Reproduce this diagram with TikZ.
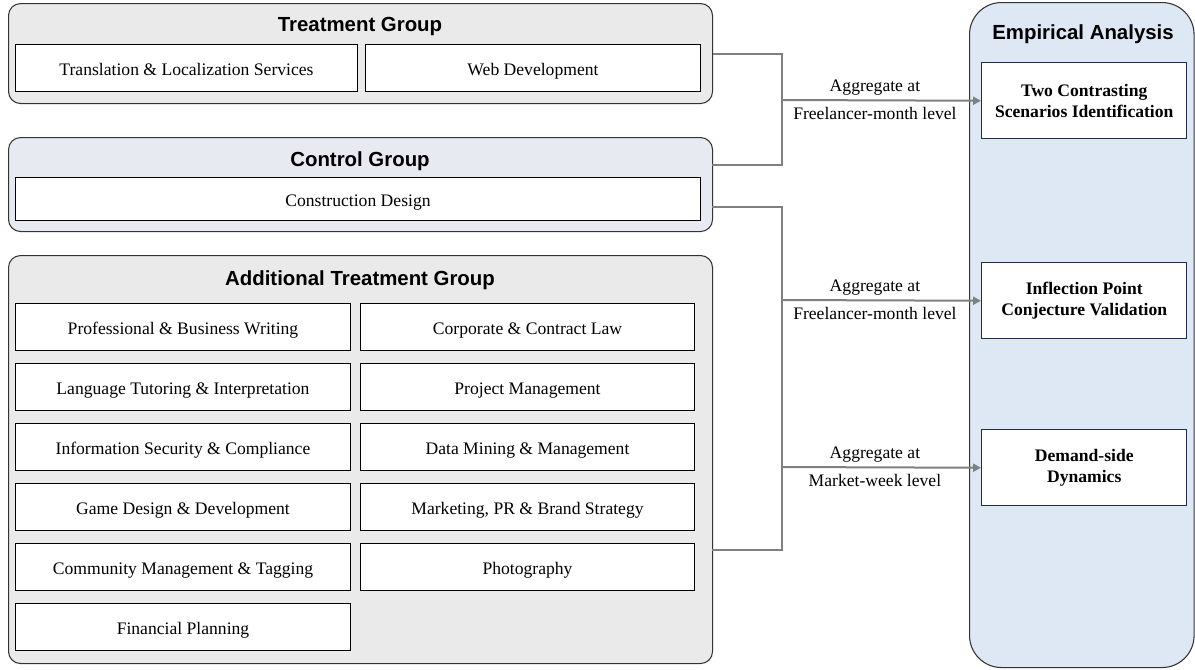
\documentclass[tikz,border=0pt]{standalone}
\usepackage{fontspec}
\setmainfont{Liberation Serif}
\setsansfont{Liberation Sans}
\usetikzlibrary{arrows.meta}
\definecolor{grpgray}{HTML}{EBEAEB}
\definecolor{grpblue}{HTML}{E7EBF1}
\definecolor{anablue}{HTML}{DDE8F4}
\definecolor{navy}{HTML}{1F2E4D}
\definecolor{conngray}{HTML}{808080}
\tikzset{
	group/.style={draw=black!80, line width=0.8pt, rounded corners=9pt, anchor=north west, inner sep=0pt, minimum width=528pt},
	grouptitle/.style={anchor=base, font=\sffamily\bfseries\fontsize{15.3}{18}\selectfont},
	item/.style={draw=black, line width=0.75pt, fill=white, anchor=north west, inner sep=0pt, minimum height=35.25pt, text height=12pt, text depth=0.3pt, font=\fontsize{13.2}{16}\selectfont},
	result/.style={draw=navy, line width=1.1pt, fill=white, anchor=north west, inner sep=0pt, minimum width=153.75pt, minimum height=57pt, align=center, font=\bfseries\fontsize{13.2}{15.5}\selectfont},
	conn/.style={draw=conngray, line width=1.5pt},
	arr/.style={conn, -{Triangle[length=6pt,width=6pt]}},
	upper/.style={pos=0.467, anchor=base, yshift=7pt, font=\fontsize{13.2}{16}\selectfont},
	lower/.style={pos=0.467, anchor=base, yshift=-14pt, font=\fontsize{13.2}{16}\selectfont}
}
\begin{document}
\begin{tikzpicture}[x=0.75pt, y=-0.75pt]
	\useasboundingbox (0,0) rectangle (1195,669);
	% groups on the left
	\node (tg) at (8,3)	[group, fill=grpgray, minimum height=75pt]	{};
	\node (cg) at (8,137)	[group, fill=grpblue, minimum height=70.5pt]	{};
	\node (ag) at (8,255)	[group, fill=grpgray, minimum height=306pt]	{};
	\node (tgt) at (360,31)	[grouptitle]	{Treatment Group};
	\node (cgt) at (360,166.5)	[grouptitle]	{Control Group};
	\node (agt) at (360,285)	[grouptitle]	{Additional Treatment Group};
	\node (t1) at (15,44)	[item, minimum width=256.5pt]	{Translation \& Localization Services};
	\node (t2) at (365,44)	[item, minimum width=251.25pt]	{Web Development};
	\node (c1) at (15,177)	[item, minimum width=513.75pt, minimum height=32.25pt]	{Construction Design};
	\node (a1) at (15,303)	[item, minimum width=251.25pt]	{Professional \& Business Writing};
	\node (a2) at (360,303)	[item, minimum width=250.5pt]	{Corporate \& Contract Law};
	\node (a3) at (15,363)	[item, minimum width=251.25pt]	{Language Tutoring \& Interpretation};
	\node (a4) at (360,363)	[item, minimum width=250.5pt]	{Project Management};
	\node (a5) at (15,423)	[item, minimum width=251.25pt]	{Information Security \& Compliance};
	\node (a6) at (360,423)	[item, minimum width=250.5pt]	{Data Mining \& Management};
	\node (a7) at (15,483)	[item, minimum width=251.25pt]	{Game Design \& Development};
	\node (a8) at (360,483)	[item, minimum width=250.5pt]	{Marketing, PR \& Brand Strategy};
	\node (a9) at (15,543)	[item, minimum width=251.25pt]	{Community Management \& Tagging};
	\node (a10) at (360,543)	[item, minimum width=250.5pt]	{Photography};
	\node (a11) at (15,603)	[item, minimum width=251.25pt]	{Financial Planning};
	% analysis panel
	\node (ea) at (969,2)	[draw=black!80, line width=0.8pt, fill=anablue, rounded corners=24pt, anchor=north west, inner sep=0pt, minimum width=168.4pt, minimum height=498.75pt]	{};
	\node (eat) at (1083,39)	[grouptitle]	{Empirical Analysis};
	\node (e1) at (981,62)	[result]	{Two Contrasting\\Scenarios Identification};
	\node (e2) at (981,262)	[result]	{Inflection Point\\Conjecture Validation};
	\node (e3) at (981,429)	[result]	{Demand-side\\Dynamics};
	% connectors
	\coordinate (j1) at (782,100);
	\coordinate (j2) at (782,300);
	\coordinate (j3) at (782,467);
	\coordinate (cgup) at (712,165);
	\coordinate (cgdown) at (712,207);
	\coordinate (agout) at (712,550);
	\draw[conn] (tg.east) -| (j1);
	\draw[conn] (cgup) -| (j1);
	\draw[conn] (cgdown) -| (j2) -- (j3) |- (agout);
	\draw[arr] (j1) -- (e1.west) node[upper] {Aggregate at} node[lower] {Freelancer-month level};
	\draw[arr] (j2) -- (e2.west) node[upper] {Aggregate at} node[lower] {Freelancer-month level};
	\draw[arr] (j3) -- (e3.west) node[upper] {Aggregate at} node[lower] {Market-week level};
\end{tikzpicture}
\end{document}
